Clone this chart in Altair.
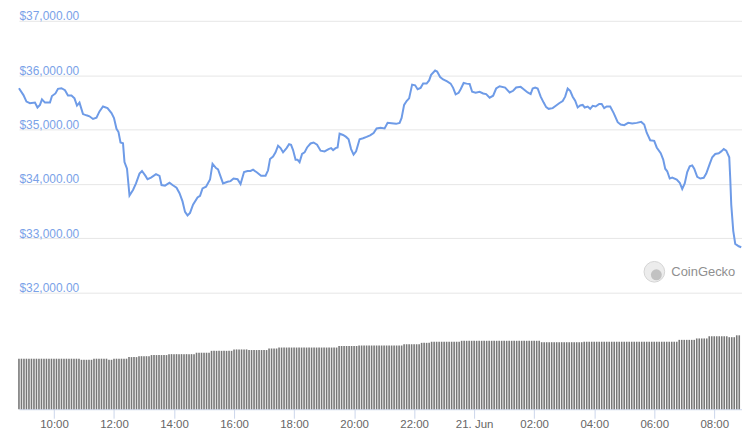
import altair as alt
import pandas as pd

START = "2021-06-20 08:50"

# price line: minutes after START and price in USD
price_minutes = [
    0, 9, 15, 22, 32, 37, 42, 46, 52, 62,
    66, 73, 78, 85, 92, 98, 105, 111, 116, 121,
    128, 135, 141, 148, 155, 161, 168, 177, 185, 190,
    195, 199, 203, 208, 211, 216, 221, 228, 234, 241,
    246, 253, 257, 264, 274, 281, 285, 292, 301, 307,
    315, 321, 327, 332, 337, 342, 348, 357, 362, 367,
    374, 382, 387, 394, 398, 408, 417, 423, 429, 437,
    443, 450, 457, 463, 468, 476, 484, 493, 498, 502,
    508, 513, 518, 523, 528, 535, 540, 544, 548, 553,
    557, 561, 566, 571, 576, 583, 589, 596, 603, 611,
    619, 624, 628, 633, 637, 641, 648, 654, 659, 664,
    669, 674, 681, 688, 695, 702, 709, 715, 723, 731,
    737, 745, 754, 761, 765, 770, 775, 780, 786, 792,
    797, 803, 808, 815, 820, 824, 832, 836, 842, 848,
    856, 863, 868, 873, 879, 883, 889, 895, 901, 906,
    913, 921, 928, 934, 941, 948, 954, 961, 972, 981,
    988, 994, 1003, 1009, 1017, 1023, 1027, 1032, 1037, 1043,
    1049, 1054, 1059, 1067, 1074, 1080, 1087, 1092, 1097, 1102,
    1107, 1112, 1117, 1122, 1127, 1131, 1137, 1142, 1147, 1153,
    1160, 1165, 1170, 1175, 1182, 1189, 1197, 1203, 1210, 1218,
    1226, 1235, 1244, 1250, 1255, 1262, 1270, 1275, 1283, 1288,
    1292, 1296, 1301, 1306, 1315, 1321, 1326, 1331, 1336, 1341,
    1346, 1350, 1356, 1362, 1369, 1374, 1381, 1386, 1392, 1399,
    1404, 1409, 1414, 1420, 1422, 1424, 1428, 1432, 1439, 1444,
]
price_usd = [
    35760, 35634, 35514, 35484, 35496, 35406, 35453, 35556, 35496, 35496,
    35616, 35664, 35749, 35760, 35724, 35628, 35628, 35574, 35442, 35496,
    35285, 35262, 35244, 35195, 35219, 35334, 35424, 35394, 35303, 35213,
    35014, 34954, 34762, 34749, 34401, 34280, 33787, 33890, 34009, 34190,
    34238, 34148, 34088, 34117, 34179, 34148, 33980, 33968, 34022, 33980,
    33931, 33829, 33679, 33486, 33421, 33468, 33619, 33751, 33782, 33919,
    33950, 34081, 34370, 34292, 34269, 34009, 34040, 34052, 34099, 34088,
    33998, 34220, 34238, 34238, 34262, 34210, 34150, 34150, 34251, 34460,
    34504, 34581, 34702, 34659, 34581, 34659, 34731, 34720, 34623, 34443,
    34443, 34401, 34551, 34581, 34671, 34744, 34762, 34720, 34612, 34599,
    34641, 34659, 34623, 34659, 34671, 34924, 34900, 34865, 34822, 34641,
    34540, 34599, 34822, 34840, 34865, 34894, 34937, 35020, 35032, 35020,
    35123, 35117, 35105, 35123, 35213, 35453, 35525, 35574, 35827, 35814,
    35742, 35767, 35845, 35845, 35904, 36007, 36085, 36067, 35966, 35922,
    35886, 35845, 35767, 35646, 35677, 35742, 35857, 35845, 35839, 35695,
    35677, 35695, 35664, 35652, 35587, 35623, 35755, 35796, 35773, 35682,
    35713, 35773, 35785, 35742, 35682, 35652, 35755, 35773, 35755, 35605,
    35496, 35412, 35381, 35394, 35442, 35484, 35525, 35605, 35755, 35713,
    35605, 35532, 35406, 35442, 35453, 35406, 35424, 35381, 35436, 35424,
    35471, 35471, 35394, 35424, 35424, 35303, 35135, 35092, 35081, 35123,
    35111, 35123, 35141, 35092, 34942, 34803, 34792, 34671, 34567, 34449,
    34280, 34233, 34099, 34117, 34081, 34022, 33908, 34009, 34220, 34323,
    34341, 34280, 34130, 34099, 34112, 34190, 34370, 34491, 34551, 34563,
    34599, 34641, 34612, 34491, 34099, 33619, 33137, 32897, 32854, 32836,
]

# 24h volume (billions USD), one bar every 5 minutes from START
volume_bn = [
    32.2, 32.2, 32.2, 32.2, 32.2, 32.2, 32.2, 32.2, 32.2, 32.2, 32.2, 32.2,
    32.2, 32.2, 32.2, 32.2, 32.2, 32.2, 32.2, 32.2, 32.2, 32.2, 32.2, 32.2,
    32.2, 31.5, 31.5, 31.5, 31.5, 31.5, 32.2, 32.2, 32.2, 32.2, 32.2, 32.2,
    31.5, 31.5, 32.2, 32.2, 32.2, 32.2, 32.2, 32.2, 33.2, 33.2, 33.2, 33.2,
    33.8, 33.8, 33.8, 33.8, 33.8, 34.5, 34.5, 34.5, 34.5, 34.5, 34.5, 34.5,
    35.1, 35.1, 35.1, 35.1, 35.1, 35.1, 35.1, 35.1, 35.1, 35.1, 35.1, 36.0,
    36.0, 36.0, 36.0, 36.0, 36.0, 37.2, 37.2, 37.2, 37.2, 37.2, 37.2, 37.2,
    37.2, 37.2, 38.1, 38.1, 38.1, 38.1, 38.1, 38.1, 37.7, 37.7, 37.7, 37.7,
    37.7, 37.7, 37.7, 37.7, 38.7, 38.7, 38.7, 38.7, 39.3, 39.3, 39.3, 39.3,
    39.3, 39.3, 39.3, 39.3, 39.3, 39.3, 39.3, 39.3, 39.3, 39.3, 39.3, 39.3,
    39.3, 39.3, 39.3, 39.3, 39.3, 39.3, 39.3, 39.3, 40.3, 40.3, 40.3, 40.3,
    40.3, 40.3, 40.3, 40.3, 40.6, 40.6, 40.6, 40.6, 40.6, 40.6, 40.6, 40.6,
    40.6, 40.6, 40.6, 40.6, 40.6, 40.6, 40.6, 40.6, 40.6, 40.6, 41.4, 41.4,
    41.4, 41.4, 41.4, 41.4, 41.4, 42.3, 42.3, 42.3, 42.3, 43.0, 43.0, 43.0,
    43.0, 43.0, 43.0, 43.0, 43.0, 43.0, 43.0, 43.0, 43.0, 43.6, 43.6, 43.6,
    43.6, 43.6, 43.6, 43.6, 43.6, 43.6, 43.6, 43.6, 43.6, 43.6, 43.6, 43.6,
    43.6, 43.6, 43.6, 43.6, 43.6, 43.6, 43.6, 43.6, 43.6, 43.6, 43.6, 43.6,
    43.6, 43.6, 43.6, 43.6, 43.6, 42.7, 42.7, 42.7, 42.7, 42.7, 42.7, 42.7,
    42.7, 42.7, 42.7, 42.7, 42.7, 42.7, 42.7, 42.7, 42.7, 42.7, 43.0, 43.0,
    43.0, 43.0, 43.0, 43.0, 43.0, 43.0, 43.0, 43.0, 43.0, 43.0, 43.0, 43.0,
    43.0, 43.0, 43.0, 43.0, 43.0, 43.0, 43.0, 43.0, 43.0, 43.0, 43.0, 43.0,
    43.0, 43.0, 43.0, 43.0, 43.0, 43.0, 43.0, 43.0, 43.0, 43.0, 43.0, 43.0,
    44.2, 44.2, 44.2, 44.2, 44.2, 44.2, 44.2, 45.1, 45.1, 45.1, 45.1, 45.1,
    46.5, 46.5, 46.5, 46.5, 46.5, 46.5, 46.5, 46.5, 45.9, 45.9, 45.9, 47.1,
    47.1,
]

y_ticks = [32000, 33000, 34000, 35000, 36000, 37000]

start = pd.Timestamp(START)
price_df = pd.DataFrame({
    "time": start + pd.to_timedelta(price_minutes, unit="m"),
    "price": price_usd,
})
vol_df = pd.DataFrame({
    "time": pd.date_range(start, periods=len(volume_bn), freq="5min"),
    "volume": volume_bn,
})

x_domain = [
    alt.DateTime(year=2021, month=6, date=20, hours=8, minutes=50),
    alt.DateTime(year=2021, month=6, date=21, hours=8, minutes=55, seconds=30),
]
tick_vals = [alt.DateTime(year=2021, month=6, date=20, hours=h) for h in (10, 12, 14, 16, 18, 20, 22)] + \
            [alt.DateTime(year=2021, month=6, date=21, hours=h) for h in (0, 2, 4, 6, 8)]

x_enc = alt.X(
    "time:T",
    scale=alt.Scale(domain=x_domain, padding=0),
    axis=alt.Axis(
        values=tick_vals,
        labelExpr="hours(datum.value) == 0 ? '21. Jun' : timeFormat(datum.value, '%H:%M')",
        title=None, grid=False,
        domainColor="#ccd6eb", tickColor="#ccd6eb", tickSize=9,
        labelColor="#666666", labelFontSize=11.5, labelFont="Liberation Sans",
        labelPadding=0, labelFlush=False, labelOverlap=False,
    ),
)

bars = alt.Chart(vol_df).mark_bar(width=1.6, color="#777777").encode(
    x=x_enc,
    y=alt.Y("volume:Q", scale=alt.Scale(domain=[0, 247.5], nice=False, padding=0), axis=None),
)

line = alt.Chart(price_df).mark_line(color="#6e9be7", strokeWidth=2).encode(
    x=x_enc,
    y=alt.Y(
        "price:Q",
        scale=alt.Scale(domain=[29857, 37000], nice=False, zero=False, padding=0),
        axis=alt.Axis(
            values=y_ticks, format="$,.2f", title=None,
            domain=False, ticks=False,
            labelAlign="left", labelBaseline="alphabetic", labelPadding=0, labelOffset=-1,
            labelColor="#7aa2e8", labelFontSize=12, labelFont="Liberation Sans",
            grid=True, gridColor="#e6e6e6", gridWidth=1,
        ),
    ),
)

wm_df = pd.DataFrame({"label": ["CoinGecko"]})
wm_circle = alt.Chart(wm_df).mark_circle(
    size=430, fill="#ececec", stroke="#d4d4d4", strokeWidth=1, opacity=1
).encode(x=alt.value(638), y=alt.value(252))
wm_head = alt.Chart(wm_df).mark_circle(size=120, color="#c2c2c2", opacity=1).encode(
    x=alt.value(640), y=alt.value(255)
)
wm_text = alt.Chart(wm_df).mark_text(
    align="left", baseline="middle", fontSize=13, font="Liberation Sans", color="#8f8f8f"
).encode(x=alt.value(655), y=alt.value(252), text="label:N")

chart = alt.layer(bars, line, wm_circle, wm_head, wm_text).resolve_scale(
    y="independent"
).properties(
    width=726, height=390,
    autosize=alt.AutoSizeParams(type="none"),
    padding={"left": 11, "top": 12, "right": 0, "bottom": 20},
).configure_view(stroke=None)

chart.save("out.html", embed_options={"renderer": "svg", "actions": False})
